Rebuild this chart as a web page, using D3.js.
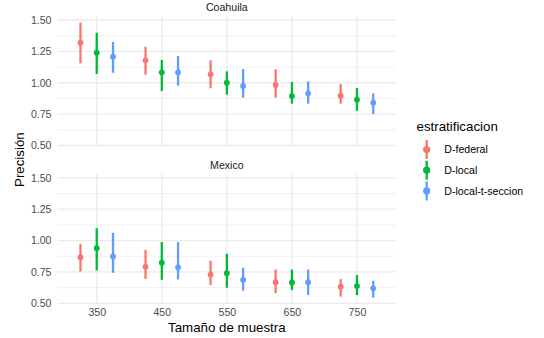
<!DOCTYPE html>
<html>
<head>
<meta charset="utf-8">
<script src="https://cdn.jsdelivr.net/npm/d3@7"></script>
<style>
  html, body { margin: 0; padding: 0; background: #fff; }
  svg { display: block; font-family: "Liberation Sans", Arial, sans-serif; }
</style>
</head>
<body>
<svg id="chart" width="544" height="338"></svg>
<script>
const sampleSizes = ["350", "450", "550", "650", "750"];
const seriesNames = ["D-federal", "D-local", "D-local-t-seccion"];
const seriesColors = ["#F8766D", "#00BA38", "#619CFF"];
const states = ["Coahuila", "Mexico"];
const yTicks = [0.50, 0.75, 1.00, 1.25, 1.50];
const yMinorTicks = [0.625, 0.875, 1.125, 1.375];

// Coahuila
const coaFederalMid  = [1.319, 1.179, 1.067, 0.982, 0.897];
const coaFederalLow  = [1.155, 1.064, 0.956, 0.881, 0.833];
const coaFederalHigh = [1.479, 1.287, 1.179, 1.107, 0.990];
const coaLocalMid    = [1.240, 1.083, 1.000, 0.894, 0.865];
const coaLocalLow    = [1.070, 0.934, 0.905, 0.833, 0.777];
const coaLocalHigh   = [1.399, 1.181, 1.091, 1.006, 0.958];
const coaSeccMid     = [1.208, 1.083, 0.974, 0.916, 0.841];
const coaSeccLow     = [1.080, 0.977, 0.881, 0.833, 0.749];
const coaSeccHigh    = [1.325, 1.213, 1.110, 1.011, 0.916];

// Mexico
const mexFederalMid  = [0.867, 0.791, 0.729, 0.668, 0.632];
const mexFederalLow  = [0.753, 0.695, 0.645, 0.581, 0.553];
const mexFederalHigh = [0.974, 0.926, 0.839, 0.769, 0.693];
const mexLocalMid    = [0.939, 0.823, 0.740, 0.666, 0.637];
const mexLocalLow    = [0.761, 0.687, 0.624, 0.605, 0.565];
const mexLocalHigh   = [1.098, 0.988, 0.895, 0.769, 0.725];
const mexSeccMid     = [0.873, 0.786, 0.687, 0.668, 0.619];
const mexSeccLow     = [0.743, 0.690, 0.601, 0.567, 0.545];
const mexSeccHigh    = [1.062, 0.988, 0.783, 0.769, 0.680];

const panelData = {
  "Coahuila": [
    [coaFederalMid, coaFederalLow, coaFederalHigh],
    [coaLocalMid, coaLocalLow, coaLocalHigh],
    [coaSeccMid, coaSeccLow, coaSeccHigh]
  ],
  "Mexico": [
    [mexFederalMid, mexFederalLow, mexFederalHigh],
    [mexLocalMid, mexLocalLow, mexLocalHigh],
    [mexSeccMid, mexSeccLow, mexSeccHigh]
  ]
};

const svg = d3.select("#chart");
const panelLeft = 57.7, panelRight = 396;
const panelTops = [16, 173.8];
const panelH = 129.5;
const dodge = [-0.25, 0, 0.25];

const x = d3.scalePoint().domain(sampleSizes).range([panelLeft, panelRight]).padding(0.6);
const step = x.step();

const fontSmall = 10.6;
const fontTitle = 13.3;

states.forEach((st, pi) => {
  const top = panelTops[pi];
  const y = d3.scaleLinear().domain([0.5, 1.532]).range([top + panelH, top]);
  const g = svg.append("g");

  // minor grid
  g.selectAll(".minor").data(yMinorTicks).enter().append("line")
    .attr("x1", panelLeft).attr("x2", panelRight)
    .attr("y1", d => y(d)).attr("y2", d => y(d))
    .attr("stroke", "#EBEBEB").attr("stroke-width", 0.7);
  // major grid
  g.selectAll(".major").data(yTicks).enter().append("line")
    .attr("x1", panelLeft).attr("x2", panelRight)
    .attr("y1", d => y(d)).attr("y2", d => y(d))
    .attr("stroke", "#EBEBEB").attr("stroke-width", 1.3);
  g.selectAll(".vmajor").data(sampleSizes).enter().append("line")
    .attr("x1", d => x(d)).attr("x2", d => x(d))
    .attr("y1", top).attr("y2", top + panelH)
    .attr("stroke", "#EBEBEB").attr("stroke-width", 1.3);

  // y axis labels
  const yAxis = d3.axisLeft(y).tickValues(yTicks).tickFormat(d3.format(".2f")).tickSize(0).tickPadding(0);
  const ya = svg.append("g").attr("transform", `translate(51.5,0)`).call(yAxis);
  ya.select(".domain").remove();
  ya.selectAll("text").attr("font-size", fontSmall).attr("fill", "#4D4D4D")
    .attr("font-family", "Liberation Sans, Arial, sans-serif");

  // strip
  svg.append("text").attr("x", (panelLeft + panelRight) / 2).attr("y", top - 5)
    .attr("text-anchor", "middle").attr("font-size", fontSmall).attr("fill", "#1A1A1A").text(st);

  // pointranges
  seriesNames.forEach((s, si) => {
    const [mid, low, high] = panelData[st][si];
    const xs = sampleSizes.map(c => x(c) + dodge[si] * step);
    g.selectAll(null).data(sampleSizes).enter().append("line")
      .attr("x1", (d, i) => xs[i]).attr("x2", (d, i) => xs[i])
      .attr("y1", (d, i) => y(low[i])).attr("y2", (d, i) => y(high[i]))
      .attr("stroke", seriesColors[si]).attr("stroke-width", 2.3);
    g.selectAll(null).data(sampleSizes).enter().append("circle")
      .attr("cx", (d, i) => xs[i]).attr("cy", (d, i) => y(mid[i])).attr("r", 2.9)
      .attr("fill", seriesColors[si]);
  });

  if (pi === 1) {
    const xAxis = d3.axisBottom(x).tickSize(0).tickPadding(0);
    const xa = svg.append("g").attr("transform", `translate(0,${top + panelH + 5})`).call(xAxis);
    xa.select(".domain").remove();
    xa.selectAll("text").attr("font-size", fontSmall).attr("fill", "#4D4D4D")
      .attr("font-family", "Liberation Sans, Arial, sans-serif");
  }
});

// axis titles
svg.append("text").attr("x", (panelLeft + panelRight) / 2).attr("y", 332)
  .attr("text-anchor", "middle").attr("font-size", fontTitle).attr("fill", "#000").text("Tamaño de muestra");
svg.append("text").attr("transform", `translate(24,${(16 + 173.8 + panelH) / 2}) rotate(-90)`)
  .attr("text-anchor", "middle").attr("font-size", fontTitle).attr("fill", "#000").text("Precisión");

// legend
const lg = svg.append("g");
lg.append("text").attr("x", 416.5).attr("y", 130.5).attr("font-size", fontTitle).attr("fill", "#000").text("estratificacion");
seriesNames.forEach((s, i) => {
  const cy = 149.5 + i * 20.7;
  lg.append("line").attr("x1", 426.7).attr("x2", 426.7).attr("y1", cy - 9.5).attr("y2", cy + 9.5)
    .attr("stroke", seriesColors[i]).attr("stroke-width", 2.3);
  lg.append("circle").attr("cx", 426.7).attr("cy", cy).attr("r", 3.6).attr("fill", seriesColors[i]);
  lg.append("text").attr("x", 444.3).attr("y", cy + 3.8).attr("font-size", fontSmall).attr("fill", "#000").text(s);
});
</script>
</body>
</html>
